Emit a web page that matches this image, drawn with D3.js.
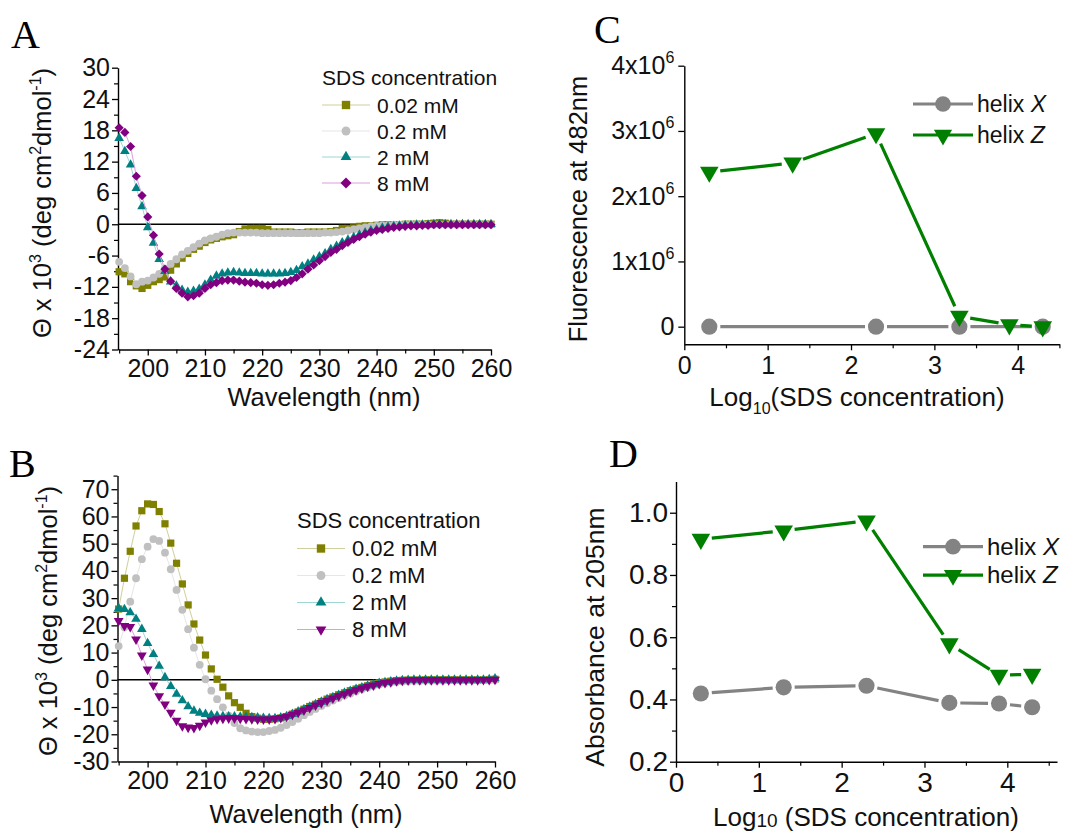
<!DOCTYPE html>
<html>
<head>
<meta charset="utf-8">
<script src="https://cdn.jsdelivr.net/npm/d3@7"></script>
<style>
  body { margin: 0; background: #fff; }
  svg { display: block; }
</style>
</head>
<body>
<svg id="fig" width="1066" height="832"></svg>
<script>
// ---------- data ----------
const wavelengths = [195,196,197,198,199,200,201,202,203,204,205,206,207,208,209,210,211,212,213,214,
  215,216,217,218,219,220,221,222,223,224,225,226,227,228,229,230,231,232,233,234,
  235,236,237,238,239,240,241,242,243,244,245,246,247,248,249,250,251,252,253,254,
  255,256,257,258,259,260];

const sdsLabels = ["0.02 mM", "0.2 mM", "2 mM", "8 mM"];

// Panel A: CD spectra (Θ x 10^3)
const cdA_002 = [-9.1,-9.5,-11.0,-11.8,-12.3,-11.7,-11.0,-10.6,-10.1,-8.8,
  -7.6,-6.5,-5.6,-4.8,-4.2,-3.5,-3.0,-2.7,-2.4,-2.2,
  -2.0,-1.4,-0.9,-0.8,-0.8,-0.8,-1.0,-1.5,-1.5,-1.5,
  -1.5,-1.6,-1.6,-1.5,-1.5,-1.5,-1.5,-1.4,-1.2,-0.8,
  -0.8,-0.7,-0.4,-0.3,-0.3,-0.2,-0.1,-0.1,-0.1,-0.1,
  0.0,0.0,0.0,0.0,0.1,0.2,0.3,0.2,0.0,0.0,
  0.0,0.0,0.0,0.0,0.0,0.0];
const cdA_02 = [-7.2,-8.4,-10.0,-11.5,-11.0,-10.8,-10.2,-9.5,-8.5,-7.6,
  -6.7,-5.8,-5.1,-4.4,-3.7,-3.1,-2.7,-2.4,-2.0,-1.7,
  -1.6,-1.6,-1.6,-1.6,-1.6,-1.7,-1.7,-1.7,-1.7,-1.7,
  -1.7,-1.7,-1.7,-1.7,-1.7,-1.7,-1.6,-1.6,-1.5,-1.4,
  -1.2,-1.0,-0.8,-0.6,-0.4,-0.3,-0.2,-0.2,-0.1,-0.1,
  -0.1,-0.1,-0.1,-0.1,-0.1,-0.1,-0.1,-0.1,-0.1,-0.1,
  -0.1,-0.1,-0.1,-0.1,-0.1,-0.1];
const cdA_2 = [16.5,14.0,11.4,6.9,3.4,-0.6,-3.6,-6.7,-9.0,-11.0,
  -11.8,-12.6,-13.0,-12.8,-12.4,-11.6,-10.7,-9.9,-9.5,-9.3,
  -9.2,-9.3,-9.4,-9.4,-9.4,-9.5,-9.5,-9.5,-9.5,-9.4,
  -9.2,-8.8,-8.1,-7.6,-6.8,-6.2,-5.6,-4.8,-4.2,-3.5,
  -3.0,-2.5,-2.0,-1.6,-1.2,-1.0,-0.7,-0.5,-0.4,-0.3,
  -0.2,-0.2,-0.1,-0.1,-0.1,0.0,0.0,0.0,0.0,0.0,
  0.0,0.0,0.0,0.0,0.0,0.0];
const cdA_8 = [18.5,17.6,14.9,9.2,5.5,1.4,-2.1,-5.7,-8.6,-10.9,
  -12.3,-13.2,-13.9,-13.7,-13.2,-12.3,-11.6,-11.2,-10.8,-10.7,
  -10.7,-10.9,-11.1,-11.2,-11.3,-11.6,-11.7,-11.6,-11.3,-11.1,
  -10.8,-10.2,-9.5,-8.6,-7.8,-7.0,-6.2,-5.4,-4.8,-4.1,
  -3.5,-2.9,-2.4,-1.9,-1.5,-1.2,-1.0,-0.8,-0.6,-0.5,
  -0.4,-0.3,-0.3,-0.2,-0.2,-0.1,-0.1,-0.1,-0.1,-0.1,
  -0.1,-0.1,-0.1,-0.1,-0.1,-0.1];

// Panel B: CD spectra (Θ x 10^3)
const cdB_002 = [26.0,37.3,47.2,56.5,62.1,64.6,64.4,61.8,57.3,50.2,
  42.8,35.2,27.5,20.5,14.6,9.1,4.0,0.2,-2.7,-5.9,
  -8.4,-10.1,-12.3,-13.5,-14.1,-14.5,-14.5,-14.3,-14.0,-13.5,
  -12.6,-11.8,-10.8,-9.8,-9.0,-8.0,-7.1,-6.3,-5.5,-4.8,
  -4.0,-3.4,-2.8,-2.2,-1.6,-1.1,-0.8,-0.5,-0.3,-0.2,
  -0.1,-0.1,-0.1,0.0,0.0,0.0,0.0,0.0,0.0,0.0,
  0.0,0.0,0.0,0.0,0.1,0.2];
const cdB_02 = [12.4,19.3,28.7,37.3,44.3,48.9,51.7,51.0,46.7,40.6,
  33.0,25.7,18.6,11.8,5.5,0.2,-4.0,-7.1,-10.1,-13.2,
  -15.9,-17.8,-18.6,-19.0,-19.2,-19.2,-18.8,-18.4,-17.6,-16.6,
  -15.5,-14.3,-13.0,-11.8,-10.7,-9.6,-8.6,-7.6,-6.7,-5.8,
  -5.0,-4.2,-3.5,-2.8,-2.2,-1.7,-1.3,-1.0,-0.8,-0.6,
  -0.5,-0.4,-0.4,-0.3,-0.3,-0.3,-0.3,-0.2,-0.2,-0.2,
  -0.2,-0.2,-0.1,-0.1,-0.1,-0.1];
const cdB_2 = [26.3,25.9,24.7,22.3,18.6,13.4,9.4,5.1,0.9,-2.4,
  -5.2,-7.6,-9.8,-11.4,-12.2,-12.6,-12.9,-13.2,-13.4,-13.5,
  -13.5,-13.6,-13.7,-13.8,-13.9,-14.0,-14.1,-14.1,-13.9,-13.4,
  -12.6,-11.7,-10.8,-9.9,-9.0,-8.1,-7.2,-6.4,-5.6,-4.8,
  -4.1,-3.4,-2.8,-2.2,-1.7,-1.2,-0.9,-0.6,-0.4,-0.2,
  -0.1,0.0,0.0,0.0,0.0,0.0,0.0,0.0,0.0,0.0,
  0.0,0.0,0.0,0.0,0.2,0.5];
const cdB_8 = [21.7,19.8,19.5,14.9,9.0,3.8,-2.0,-6.0,-9.0,-12.0,
  -15.0,-17.0,-17.5,-17.6,-16.8,-15.6,-14.8,-14.4,-14.2,-14.1,
  -14.1,-14.2,-14.3,-14.4,-14.5,-14.5,-14.5,-14.3,-14.0,-13.5,
  -12.8,-12.0,-11.2,-10.3,-9.4,-8.5,-7.6,-6.8,-6.0,-5.2,
  -4.5,-3.8,-3.1,-2.5,-2.0,-1.5,-1.1,-0.8,-0.5,-0.3,
  -0.2,-0.1,-0.1,-0.1,-0.1,-0.1,-0.1,-0.1,-0.1,-0.1,
  -0.1,-0.1,-0.1,0.0,0.0,0.1];

// Panels C and D: log10 of SDS concentration (µM)
const logConc = [0.3, 1.3, 2.3, 3.3, 3.9, 4.3];
const fluorXlog = [0.3, 2.3, 3.3, 4.3];
const fluorX = [0, 0, 0, 0];
const fluorZ = [2.37e6, 2.51e6, 2.96e6, 0.16e6, 0.03e6, 0.0];
const absX = [0.419, 0.439, 0.444, 0.389, 0.387, 0.375];
const absZ = [0.915, 0.942, 0.974, 0.579, 0.478, 0.481];

// tick values / labels
const cdXTicks = [200, 210, 220, 230, 240, 250, 260];
const cdXMinor = [195, 205, 215, 225, 235, 245, 255];
const cdAYTicks = [-24, -18, -12, -6, 0, 6, 12, 18, 24, 30];
const cdAYMinor = [-21, -15, -9, -3, 3, 9, 15, 21, 27];
const cdBYTicks = [-30, -20, -10, 0, 10, 20, 30, 40, 50, 60, 70];
const cdBYMinor = [-25, -15, -5, 5, 15, 25, 35, 45, 55, 65, 75];
const logTicks = [0, 1, 2, 3, 4];
const logMinor = [0.5, 1.5, 2.5, 3.5, 4.5];
const fluorTicks = [0, 1e6, 2e6, 3e6, 4e6];
const fluorTickMantissa = ["0", "1", "2", "3", "4"];
const absTicks = [0.2, 0.4, 0.6, 0.8, 1.0];
const absMinor = [0.3, 0.5, 0.7, 0.9];

// ---------- drawing ----------
const FONT = '"Liberation Sans", Arial, Helvetica, sans-serif';
const SERIF = '"Liberation Serif", "Times New Roman", serif';
const TITLE_FS = 25.5;
const svg = d3.select("#fig");

const cdStyles = [
  { color: "#808000", line: "#cfcf9c", symbol: d3.symbolSquare, size: 52, rot: 0, legSize: 70 },
  { color: "#c0c0c0", line: "#e6e6e6", symbol: d3.symbolCircle, size: 48, rot: 0, legSize: 62 },
  { color: "#008080", line: "#9ed6d6", symbol: d3.symbolTriangle, size: 40, rot: 0, legSize: 50 },
  { color: "#800080", line: "#dba0db", symbol: d3.symbolSquare, size: 42, rot: 45, legSize: 60 }
];

const plainNum = d => String(d);

function styleAxis(g, fs) {
  g.select(".domain").attr("stroke", "#000").attr("stroke-width", 1.4);
  g.selectAll(".tick line").attr("stroke", "#000").attr("stroke-width", 1.3);
  g.selectAll(".tick text").attr("fill", "#111").attr("font-size", fs).attr("font-family", FONT);
}

function minorAxis(g, axis) {
  g.call(axis);
  g.select(".domain").remove();
  g.selectAll(".tick line").attr("stroke", "#000").attr("stroke-width", 1.2);
}

function drawFrame(x, y, o) {
  const [yb] = y.range(), [xl] = x.range();
  minorAxis(svg.append("g").attr("transform", `translate(0,${yb})`),
    d3.axisBottom(x).tickValues(o.xMinor).tickSize(4).tickFormat(""));
  if (o.yMinor) minorAxis(svg.append("g").attr("transform", `translate(${xl},0)`),
    d3.axisLeft(y).tickValues(o.yMinor).tickSize(4).tickFormat(""));
  const gx = svg.append("g").attr("transform", `translate(0,${yb})`)
    .call(d3.axisBottom(x).tickValues(o.xTicks).tickSize(6).tickSizeOuter(0).tickPadding(o.xPad).tickFormat(o.xFmt));
  styleAxis(gx, o.fs);
  const gy = svg.append("g").attr("transform", `translate(${xl},0)`)
    .call(d3.axisLeft(y).tickValues(o.yTicks).tickSize(6).tickSizeOuter(0).tickPadding(o.yPad).tickFormat(o.yFmt));
  styleAxis(gy, o.fs);
  return { gx, gy };
}

function panelLetter(t, x, yb) {
  svg.append("text").attr("x", x).attr("y", yb).attr("font-family", SERIF)
    .attr("font-size", 40).attr("fill", "#000").text(t);
}

// rotated title "Θ x 10^3 (deg cm^2 dmol^-1)"
function thetaTitle(cx, cy) {
  const t = svg.append("text").attr("transform", `translate(${cx},${cy}) rotate(-90)`)
    .attr("text-anchor", "middle").attr("font-family", FONT).attr("font-size", TITLE_FS).attr("fill", "#111");
  t.append("tspan").text("Θ x 10");
  t.append("tspan").attr("dy", -10).attr("font-size", 16).text("3");
  t.append("tspan").attr("dy", 10).text(" (deg cm");
  t.append("tspan").attr("dy", -10).attr("font-size", 16).text("2");
  t.append("tspan").attr("dy", 10).text("dmol");
  t.append("tspan").attr("dy", -10).attr("font-size", 16).text("-1");
  t.append("tspan").attr("dy", 10).text(")");
}

function cdPanel(p) {
  const x = d3.scaleLinear().domain([194.8, 260]).range([p.left, p.right]);
  const y = d3.scaleLinear().domain(p.yDomain).range([p.bottom, p.top]);
  drawFrame(x, y, {
    xTicks: cdXTicks, xMinor: cdXMinor, yTicks: p.yTicks, yMinor: p.yMinor,
    xFmt: plainNum, yFmt: plainNum, xPad: 4, yPad: 2, fs: 25
  });
  // zero reference line
  svg.append("line").attr("x1", x.range()[0]).attr("x2", x.range()[1])
    .attr("y1", y(0)).attr("y2", y(0)).attr("stroke", "#000").attr("stroke-width", 1.6);

  p.series.forEach((vals, k) => {
    const st = p.styles[k];
    const pts = wavelengths.map((w, i) => [w, vals[i]]);
    svg.append("path").datum(pts)
      .attr("d", d3.line().x(d => x(d[0])).y(d => y(d[1])))
      .attr("fill", "none").attr("stroke", st.line).attr("stroke-width", 1);
    svg.append("g").selectAll("path").data(pts).join("path")
      .attr("transform", d => `translate(${x(d[0])},${y(d[1])}) rotate(${st.rot})`)
      .attr("d", d3.symbol(st.symbol, st.size)).attr("fill", st.color);
  });

  // legend
  const L = p.legend;
  svg.append("text").attr("x", L.x).attr("y", L.titleY).attr("font-family", FONT)
    .attr("font-size", L.fs).attr("fill", "#111").text("SDS concentration");
  sdsLabels.forEach((lab, k) => {
    const st = p.styles[k], cy = L.y0 + k * L.dy;
    svg.append("line").attr("x1", L.x).attr("x2", L.x + 48).attr("y1", cy).attr("y2", cy)
      .attr("stroke", st.line).attr("stroke-width", 1.2);
    svg.append("path").attr("transform", `translate(${L.x + 24},${cy}) rotate(${st.rot})`)
      .attr("d", d3.symbol(st.symbol, st.legSize)).attr("fill", st.color);
    svg.append("text").attr("x", L.x + 55).attr("y", cy + 7.5).attr("font-family", FONT)
      .attr("font-size", L.fs).attr("fill", "#111").text(lab);
  });

  thetaTitle(p.yTitle[0], p.yTitle[1]);
  svg.append("text").attr("x", p.xTitle[0]).attr("y", p.xTitle[1]).attr("text-anchor", "middle")
    .attr("font-family", FONT).attr("font-size", TITLE_FS).attr("fill", "#111").text("Wavelength (nm)");
}

// line segments between points, stopped short of each symbol
function gappedLine(g, pts, trim, color, width) {
  for (let i = 0; i < pts.length - 1; i++) {
    const [x1, y1] = pts[i], [x2, y2] = pts[i + 1];
    const dx = x2 - x1, dy = y2 - y1, len = Math.hypot(dx, dy);
    if (len <= 2 * trim) continue;
    const ux = dx / len, uy = dy / len;
    g.append("line")
      .attr("x1", x1 + ux * trim).attr("y1", y1 + uy * trim)
      .attr("x2", x2 - ux * trim).attr("y2", y2 - uy * trim)
      .attr("stroke", color).attr("stroke-width", width);
  }
}

const helixStyles = {
  X: { color: "#838383", symbol: d3.symbolCircle, size: 205, rot: 0 },
  Z: { color: "#007f00", symbol: d3.symbolTriangle, size: 150, rot: 180 }
};

function helixSeries(x, y, xs, vs, st) {
  const pts = xs.map((v, i) => [x(v), y(vs[i])]);
  const g = svg.append("g");
  gappedLine(g, pts, 11, st.color, 3.2);
  g.selectAll("path").data(pts).join("path")
    .attr("transform", d => `translate(${d[0]},${d[1]}) rotate(${st.rot})`)
    .attr("d", d3.symbol(st.symbol, st.size)).attr("fill", st.color);
}

function helixLegend(x0, y0, dy, fs) {
  [["X", helixStyles.X], ["Z", helixStyles.Z]].forEach(([name, st], k) => {
    const cy = y0 + k * dy;
    svg.append("line").attr("x1", x0).attr("x2", x0 + 60).attr("y1", cy).attr("y2", cy)
      .attr("stroke", st.color).attr("stroke-width", 3.2);
    svg.append("path").attr("transform", `translate(${x0 + 30},${cy}) rotate(${st.rot})`)
      .attr("d", d3.symbol(st.symbol, st.size * 0.95)).attr("fill", st.color);
    const t = svg.append("text").attr("x", x0 + 64).attr("y", cy + 8).attr("font-family", FONT)
      .attr("font-size", fs).attr("fill", "#111");
    t.append("tspan").text("helix ");
    t.append("tspan").attr("font-style", "italic").text(name);
  });
}

// ----- Panel A -----
panelLetter("A", 11, 48);
cdPanel({
  left: 118, right: 491, top: 67.7, bottom: 349.5, yDomain: [-24, 30],
  yTicks: cdAYTicks, yMinor: cdAYMinor,
  series: [cdA_002, cdA_02, cdA_2, cdA_8], styles: cdStyles,
  legend: { x: 322, titleY: 85, y0: 105, dy: 26, fs: 21 },
  yTitle: [51, 203], xTitle: [324, 406]
});

// ----- Panel B -----
panelLetter("B", 9, 477);
const cdStylesB = cdStyles.map((s, k) => k === 3 ? { ...s, symbol: d3.symbolTriangle, size: 42, rot: 180, legSize: 50 } : s);
cdPanel({
  left: 117.5, right: 495, top: 475.6, bottom: 761.5, yDomain: [-30, 75],
  yTicks: cdBYTicks, yMinor: cdBYMinor,
  series: [cdB_002, cdB_02, cdB_2, cdB_8], styles: cdStylesB,
  legend: { x: 297, titleY: 528, y0: 548.5, dy: 27, fs: 22 },
  yTitle: [57, 621], xTitle: [306, 823]
});

// ----- Panel C -----
panelLetter("C", 594, 43);
{
  const x = d3.scaleLinear().domain([0, 4.5]).range([684.3, 1059.4]);
  const y = d3.scaleLinear().domain([-0.27e6, 4e6]).range([344.3, 65.7]);
  const { gy } = drawFrame(x, y, {
    xTicks: logTicks, xMinor: logMinor, yTicks: fluorTicks, yMinor: null,
    xFmt: plainNum, yFmt: (d, i) => fluorTickMantissa[i], xPad: 6, yPad: 4, fs: 25
  });
  gy.selectAll(".tick text").each(function (d, i) {
    if (d === 0) return;
    const t = d3.select(this).text("");
    t.append("tspan").text(fluorTickMantissa[i] + "x10");
    t.append("tspan").attr("dy", -11).attr("font-size", 16).text("6");
  });
  helixSeries(x, y, fluorXlog, fluorX, helixStyles.X);
  helixSeries(x, y, logConc, fluorZ, helixStyles.Z);
  helixLegend(913, 104, 31, 23);

  svg.append("text").attr("transform", "translate(587,209) rotate(-90)")
    .attr("text-anchor", "middle").attr("font-family", FONT).attr("font-size", TITLE_FS)
    .attr("fill", "#111").text("Fluorescence at 482nm");
  const tx = svg.append("text").attr("x", 857).attr("y", 406).attr("text-anchor", "middle")
    .attr("font-family", FONT).attr("font-size", 26).attr("fill", "#111");
  tx.append("tspan").text("Log");
  tx.append("tspan").attr("dy", 8).attr("font-size", 16).text("10");
  tx.append("tspan").attr("dy", -8).text("(SDS concentration)");
}

// ----- Panel D -----
panelLetter("D", 609, 467);
{
  const x = d3.scaleLinear().domain([0, 4.6]).range([676, 1057]);
  const y = d3.scaleLinear().domain([0.2, 1.1]).range([761.7, 481.6]);
  drawFrame(x, y, {
    xTicks: logTicks, xMinor: logMinor, yTicks: absTicks, yMinor: absMinor,
    xFmt: plainNum, yFmt: d3.format(".1f"), xPad: 4, yPad: 2, fs: 28
  });
  helixSeries(x, y, logConc, absX, helixStyles.X);
  helixSeries(x, y, logConc, absZ, helixStyles.Z);
  helixLegend(923, 546.7, 28.5, 24);

  svg.append("text").attr("transform", "translate(604,637) rotate(-90)")
    .attr("text-anchor", "middle").attr("font-family", FONT).attr("font-size", 26.5)
    .attr("fill", "#111").text("Absorbance at 205nm");
  const tx = svg.append("text").attr("x", 866).attr("y", 826).attr("text-anchor", "middle")
    .attr("font-family", FONT).attr("font-size", 26).attr("fill", "#111");
  tx.append("tspan").text("Log");
  tx.append("tspan").attr("dy", 1).attr("font-size", 19).text("10");
  tx.append("tspan").attr("dy", -1).text(" (SDS concentration)");
}
</script>
</body>
</html>
